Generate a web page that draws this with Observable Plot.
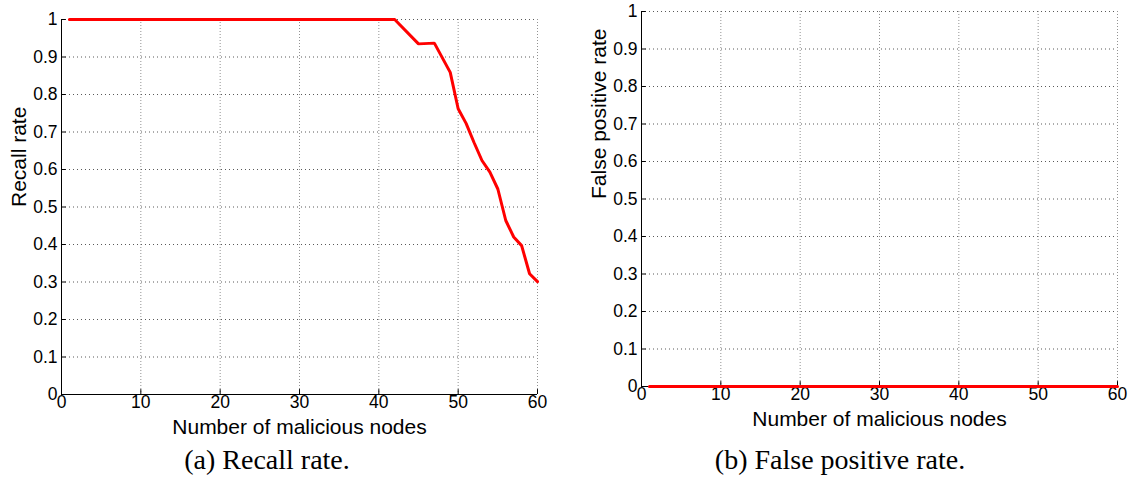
<!DOCTYPE html>
<html>
<head>
<meta charset="utf-8">
<script src="https://cdn.jsdelivr.net/npm/d3@7"></script>
<script src="https://cdn.jsdelivr.net/npm/@observablehq/plot@0.6"></script>
<style>
  html, body { margin: 0; padding: 0; background: #fff; }
  #figure { position: relative; width: 1130px; height: 483px; overflow: hidden; background: #fff; }
  .panel { position: absolute; top: 0; }
  .caption {
    position: absolute; top: 443px; width: 400px; text-align: center;
    font-family: "Liberation Serif", "Times New Roman", Times, serif;
    font-size: 28px; color: #000; line-height: 34px; white-space: nowrap;
  }
</style>
</head>
<body>
<div id="figure"></div>
<script>
// Number of malicious nodes at each vertex of the measured curves
const nodes = [1, 42, 45, 47, 49, 50, 51, 52, 53, 54, 55, 56, 57, 58, 59, 60];
// Recall rate of the detector
const recallRate = [1, 1, 0.935, 0.937, 0.859, 0.762, 0.723, 0.672, 0.624, 0.593, 0.548, 0.464, 0.42, 0.397, 0.322, 0.301];
// False positive rate of the detector
const falsePositiveRate = [0, 0, 0, 0, 0, 0, 0, 0, 0, 0, 0, 0, 0, 0, 0, 0];

const xTicks = [0, 10, 20, 30, 40, 50, 60];
const yTicks = [0, 0.1, 0.2, 0.3, 0.4, 0.5, 0.6, 0.7, 0.8, 0.9, 1];
const yTickLabels = ["0", "0.1", "0.2", "0.3", "0.4", "0.5", "0.6", "0.7", "0.8", "0.9", "1"];

const xTitle = "Number of malicious nodes";
const captions = ["(a) Recall rate.", "(b) False positive rate."];

const sansFont = '"Liberation Sans", Arial, Helvetica, sans-serif';

function panel(values, yTitle, marginTop, height) {
  const data = nodes.map((n, i) => ({n, v: values[i]}));
  return Plot.plot({
    width: 565,
    height,
    marginLeft: 61,
    marginRight: 28,
    marginTop,
    marginBottom: height - marginTop - 375,
    x: {domain: [0, 60], axis: null},
    y: {domain: [0, 1], axis: null},
    style: {fontFamily: sansFont, fontSize: "17px", color: "#000", background: "transparent", overflow: "visible"},
    marks: [
      // dotted grid
      Plot.gridY(yTicks.filter(d => d > 0), {stroke: "#222", strokeOpacity: 0.75, strokeDasharray: "1,3"}),
      Plot.gridX(xTicks.filter(d => d > 0), {stroke: "#777", strokeOpacity: 0.8, strokeDasharray: "1,2"}),
      // inward tick marks
      Plot.ruleY(yTicks, {x1: 0, x2: 0.6, stroke: "#000"}),
      Plot.ruleX(xTicks, {y1: 0, y2: 0.013, stroke: "#000"}),
      // axis lines
      Plot.ruleX([0], {stroke: "#000"}),
      Plot.ruleY([0], {stroke: "#000"}),
      // tick labels
      Plot.text(xTicks, {x: d => d, text: d => String(d), frameAnchor: "bottom", dy: 13, fontSize: 17.5, fill: "#000"}),
      Plot.text(yTicks, {y: d => d, text: (d, i) => yTickLabels[i], frameAnchor: "left", dx: -4,
        textAnchor: "end", fontSize: 17.5, fill: "#000"}),
      Plot.line(data, {x: "n", y: "v", stroke: "#ff0000", strokeWidth: 3, strokeLinejoin: "miter"}),
      Plot.text([xTitle], {text: d => d, frameAnchor: "bottom", dy: 39, fontSize: 21}),
      Plot.text([yTitle], {text: d => d, frameAnchor: "left", rotate: -90, dx: -42, fontSize: 21})
    ]
  });
}

const fig = document.getElementById("figure");

const left = panel(recallRate, "Recall rate", 19, 440);
left.classList.add("panel");
left.style.left = "0px";
fig.appendChild(left);

const right = panel(falsePositiveRate, "False positive rate", 11, 440);
right.classList.add("panel");
right.style.left = "580px";
fig.appendChild(right);

captions.forEach((c, i) => {
  const div = document.createElement("div");
  div.className = "caption";
  div.textContent = c;
  div.style.left = (i === 0 ? 267 - 200 : 840 - 200) + "px";
  fig.appendChild(div);
});
</script>
</body>
</html>
